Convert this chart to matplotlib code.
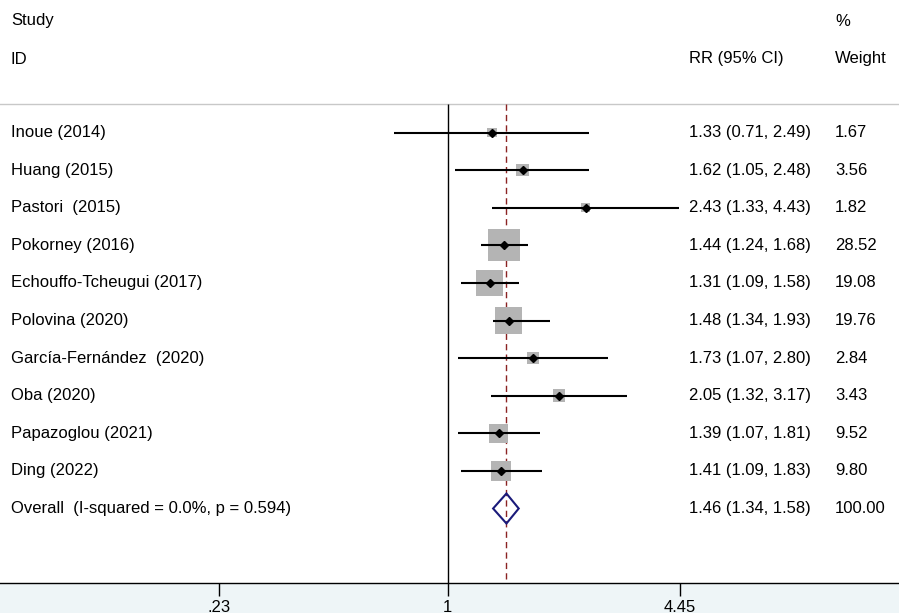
import numpy as np
import matplotlib
matplotlib.use("Agg")
import matplotlib.pyplot as plt
from matplotlib.patches import Polygon

plt.rcParams['font.family'] = ['Liberation Sans', 'DejaVu Sans']

# study data
studies = ['Inoue (2014)', 'Huang (2015)', 'Pastori  (2015)', 'Pokorney (2016)',
           'Echouffo-Tcheugui (2017)', 'Polovina (2020)', 'García-Fernández  (2020)',
           'Oba (2020)', 'Papazoglou (2021)', 'Ding (2022)']
rr = [1.33, 1.62, 2.43, 1.44, 1.31, 1.48, 1.73, 2.05, 1.39, 1.41]
lo = [0.71, 1.05, 1.33, 1.24, 1.09, 1.34, 1.07, 1.32, 1.07, 1.09]
hi = [2.49, 2.48, 4.43, 1.68, 1.58, 1.93, 2.80, 3.17, 1.81, 1.83]
weights = [1.67, 3.56, 1.82, 28.52, 19.08, 19.76, 2.84, 3.43, 9.52, 9.80]

overall_label = 'Overall  (I-squared = 0.0%, p = 0.594)'
overall_rr, overall_lo, overall_hi = 1.46, 1.34, 1.58
overall_weight = '100.00'

xticks = [0.23, 1, 4.45]
xticklabels = ['.23', '1', '4.45']

W, H = 899, 613
fig = plt.figure(figsize=(W / 100, H / 100), dpi=100, facecolor='#eef5f7')
ax = fig.add_axes([0, 30 / H, 1, 583 / H])
ax.set_facecolor('white')

# pixel geometry of the original layout
x0, kx = 447.6, 155.5        # pixel of RR=1 and pixels per ln unit
row0, dy = 132.5, 37.6       # pixel of first row and row spacing
ax.set_xscale('log')
ax.set_xlim(np.exp(-x0 / kx), np.exp((W - x0) / kx))
ybot = (583 - row0) / dy
ax.set_ylim(ybot, -row0 / dy)

def prow(p):
    return (p - row0) / dy

top_line = prow(104)
ax.axhline(top_line, color='#c8c8c8', lw=1)
ax.vlines(1, top_line, ybot, color='black', lw=1)
ax.vlines(overall_rr, top_line, ybot, color='#8b2323', lw=1, linestyles=(0, (4.5, 3)))

fs = 12
tr = ax.get_yaxis_transform()
ax.text(11 / W, prow(21), 'Study', transform=tr, fontsize=fs, va='center')
ax.text(11 / W, prow(59), 'ID', transform=tr, fontsize=fs, va='center')
ax.text(689 / W, prow(59), 'RR (95% CI)', transform=tr, fontsize=fs, va='center')
ax.text(835 / W, prow(21), '%', transform=tr, fontsize=fs, va='center')
ax.text(835 / W, prow(59), 'Weight', transform=tr, fontsize=fs, va='center')

rows = np.arange(len(studies))
# weight boxes: area proportional to weight
side_px = 2 + 30 * np.sqrt(np.array(weights) / max(weights))
ax.scatter(rr, rows, marker='s', s=(side_px * 0.72) ** 2, color='#b4b4b4',
           linewidths=0, zorder=2)
ax.hlines(rows, lo, hi, color='black', lw=1.5, zorder=3)
ax.plot(rr, rows, 'D', color='black', ms=4.3, zorder=4)

for i in rows:
    ax.text(11 / W, i, studies[i], transform=tr, fontsize=fs, va='center')
    ax.text(689 / W, i, '%.2f (%.2f, %.2f)' % (rr[i], lo[i], hi[i]),
            transform=tr, fontsize=fs, va='center')
    ax.text(835 / W, i, '%.2f' % weights[i], transform=tr, fontsize=fs, va='center')

yo = len(studies)
hd = 15 / dy
diamond = Polygon([(overall_lo, yo), (overall_rr, yo - hd), (overall_hi, yo),
                   (overall_rr, yo + hd)], closed=True, facecolor='none',
                  edgecolor='#1a1a7a', lw=1.5, zorder=5)
ax.add_patch(diamond)
ax.text(11 / W, yo, overall_label, transform=tr, fontsize=fs, va='center')
ax.text(689 / W, yo, '%.2f (%.2f, %.2f)' % (overall_rr, overall_lo, overall_hi),
        transform=tr, fontsize=fs, va='center')
ax.text(835 / W, yo, overall_weight, transform=tr, fontsize=fs, va='center')

for s in ['top', 'left', 'right']:
    ax.spines[s].set_visible(False)
ax.spines['bottom'].set_linewidth(1)
ax.set_yticks([])
ax.xaxis.set_minor_locator(matplotlib.ticker.NullLocator())
ax.set_xticks(xticks)
ax.set_xticklabels(xticklabels, fontsize=fs)
ax.tick_params(axis='x', length=9, width=1, pad=3)

fig.savefig('out.png', dpi=100, facecolor=fig.get_facecolor())
